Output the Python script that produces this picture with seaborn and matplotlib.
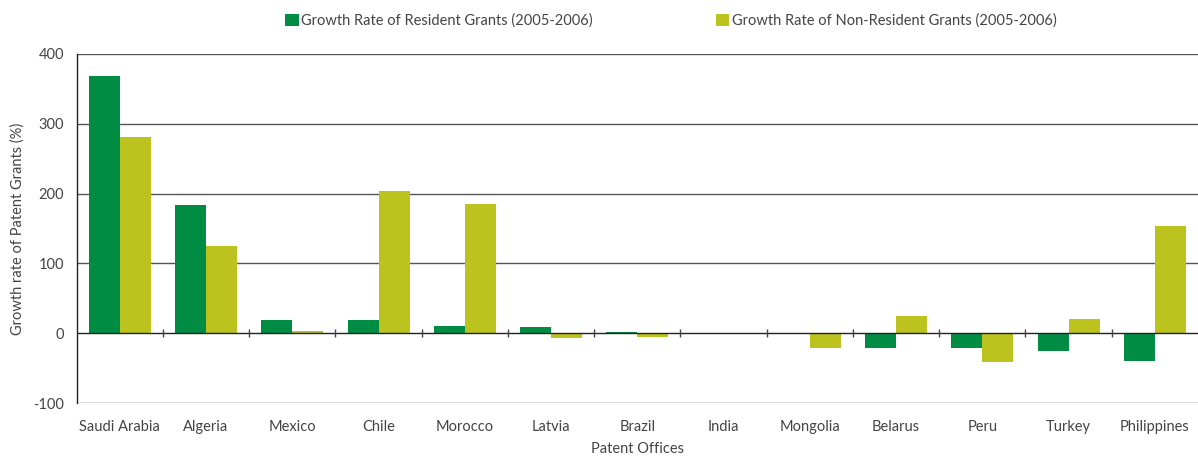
import pandas as pd
import numpy as np
import matplotlib
matplotlib.use('Agg')
import matplotlib.pyplot as plt
import seaborn as sns

offices = ['Saudi Arabia', 'Algeria', 'Mexico', 'Chile', 'Morocco', 'Latvia', 'Brazil',
           'India', 'Mongolia', 'Belarus', 'Peru', 'Turkey', 'Philippines']
resident = [368, 183, 19, 19, 10, 9, 2, 0, 0, -21, -21, -25, -40]
non_resident = [281, 125, 3, 204, 185, -7, -6, 0, -21, 24, -41, 20, 153]
series = ['Growth Rate of Resident Grants (2005-2006)',
          'Growth Rate of Non-Resident Grants (2005-2006)']
colors = ['#008c43', '#bcc21e']

df = pd.DataFrame({
    'office': offices * 2,
    'value': resident + non_resident,
    'series': [series[0]] * len(offices) + [series[1]] * len(offices),
})

sns.set_style('white')
plt.rcParams['font.family'] = ['Lato', 'DejaVu Sans']
plt.rcParams['axes.unicode_minus'] = False
text_col = '#444444'

fig, ax = plt.subplots(figsize=(11.98, 4.57), dpi=100)
fig.subplots_adjust(left=0.064, right=1.0, top=0.882, bottom=0.118)

sns.barplot(data=df, x='office', y='value', hue='series', order=offices, hue_order=series,
            palette=colors, saturation=1, width=0.72, linewidth=0, ax=ax)

ax.set_ylim(-100, 400)
ax.set_yticks([-100, 0, 100, 200, 300, 400])
ax.set_xlim(-0.5, len(offices) - 0.5)

# griglia orizzontale
for y in [-100, 100, 200, 300, 400]:
    ax.axhline(y, color='#555555', lw=1.0, zorder=0)
ax.axhline(0, color='#222222', lw=1.0, zorder=3)
# separatori delle categorie sulla linea dello zero
ax.vlines(np.arange(len(offices) - 1) + 0.5, -6, 6, color='#444444', lw=1.0, zorder=3)

for s in ['top', 'right', 'bottom']:
    ax.spines[s].set_visible(False)
ax.spines['left'].set_color('#222222')
ax.spines['left'].set_linewidth(1.0)

ax.tick_params(axis='y', length=6, width=1, color='#555555', labelcolor=text_col, labelsize=10.5, pad=3)
ax.tick_params(axis='x', length=0, labelcolor=text_col, labelsize=10.5, pad=12)

ax.set_xlabel('Patent Offices', color=text_col, fontsize=10.5, labelpad=6)
ax.set_ylabel('Growth rate of Patent Grants (%)', color=text_col, fontsize=10.5, labelpad=6)

handles, labels = ax.get_legend_handles_labels()
ax.legend_.remove()
leg = fig.legend(handles, labels, loc='center', bbox_to_anchor=(0.56, 0.955), ncol=2,
                 frameon=False, handlelength=0.9, handleheight=0.9, handletextpad=0.15,
                 columnspacing=8.5, fontsize=10.5)
for t in leg.get_texts():
    t.set_color(text_col)

plt.savefig('out.png', dpi=100)
